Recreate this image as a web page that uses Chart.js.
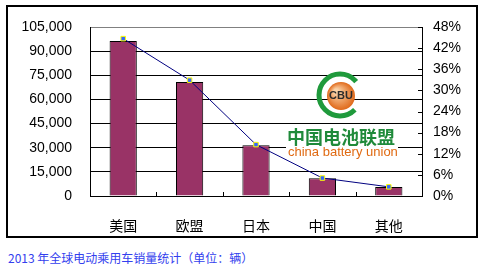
<!DOCTYPE html>
<html>
<head>
<meta charset="utf-8">
<script src="https://cdn.jsdelivr.net/npm/chart.js@4/dist/chart.umd.min.js"></script>
<style>
  body { margin: 0; background: #fff; }
  #wrap { position: relative; width: 484px; height: 267px; }
  #box { position: absolute; left: 6px; top: 5px; width: 468px; height: 229px; border: 2px solid #000; }
  #c { position: absolute; left: 0; top: 0; }
  #caption {
    position: absolute; left: 8px; top: 249px;
    font: 12px "Noto Sans CJK SC", sans-serif; color: #3340ee; white-space: nowrap;
  }
</style>
</head>
<body>
<div id="wrap">
  <div id="box"></div>
  <canvas id="c" width="484" height="240"></canvas>
  <div id="caption">2013 年全球电动乘用车销量统计（单位：辆）</div>
</div>
<script>
const categories = ['美国', '欧盟', '日本', '中国', '其他'];
const sales = [96300, 70800, 31500, 11000, 5600];
const shares = [44.7, 32.9, 14.6, 5.1, 2.6];

const salesTicks = { min: 0, max: 105000, step: 15000 };
const shareTicks = { min: 0, max: 48, step: 6 };

// small inside ticks on the right axis and between categories
const innerTicks = {
    id: 'innerTicks',
    afterDraw(chart) {
        const ctx = chart.ctx;
        const x = chart.scales.x;
        const y1 = chart.scales.y1;
        const area = chart.chartArea;
        ctx.save();
        ctx.strokeStyle = '#000';
        ctx.lineWidth = 1;
        ctx.beginPath();
        for (const t of y1.ticks) {
            const py = Math.round(y1.getPixelForValue(t.value)) + 0.5;
            ctx.moveTo(area.right - 4, py);
            ctx.lineTo(area.right, py);
        }
        for (let i = 0; i < categories.length - 1; i++) {
            const px = Math.round((x.getPixelForValue(i) + x.getPixelForValue(i + 1)) / 2) + 0.5;
            ctx.moveTo(px, area.bottom - 4);
            ctx.lineTo(px, area.bottom);
        }
        ctx.stroke();
        ctx.restore();
    }
};

// CBU watermark + grey top gridline
const logo = {
    id: 'logo',
    beforeDatasetsDraw(chart) {
        const ctx = chart.ctx;
        const area = chart.chartArea;
        ctx.save();
        const top = Math.round(chart.scales.y.getPixelForValue(salesTicks.max)) + 0.5;
        ctx.strokeStyle = '#808080';
        ctx.lineWidth = 1;
        ctx.beginPath();
        ctx.moveTo(area.left + 1, top);
        ctx.lineTo(area.right, top);
        ctx.stroke();
        ctx.fillStyle = '#fff';
        ctx.fillRect(286, 145, 112, 13);
        // green C
        ctx.strokeStyle = '#1f9a3c';
        ctx.lineWidth = 5;
        ctx.beginPath();
        ctx.arc(340, 95, 21, 0.25 * Math.PI, 1.78 * Math.PI);
        ctx.stroke();
        // orange ball
        const g = ctx.createRadialGradient(336, 91, 2, 341, 96, 14);
        g.addColorStop(0, '#fbd3a8');
        g.addColorStop(1, '#e0691a');
        ctx.fillStyle = g;
        ctx.beginPath();
        ctx.arc(341, 96, 14, 0, 2 * Math.PI);
        ctx.fill();
        ctx.fillStyle = '#2b2b2b';
        ctx.font = 'bold 11px "Liberation Sans", Arial';
        ctx.textAlign = 'center';
        ctx.textBaseline = 'middle';
        ctx.fillText('CBU', 341, 96);
        ctx.fillStyle = '#1f8a3a';
        ctx.font = 'bold 18px "Noto Sans CJK SC", sans-serif';
        ctx.textAlign = 'left';
        ctx.fillText('中国电池联盟', 287, 137);
        ctx.fillStyle = '#e06a12';
        ctx.font = '13px "Liberation Sans", Arial';
        ctx.fillText('china battery union', 288, 152);
        ctx.restore();
    }
};

new Chart(document.getElementById('c'), {
    type: 'bar',
    data: {
        labels: categories,
        datasets: [{
            type: 'line',
            data: shares,
            yAxisID: 'y1',
            order: 0,
            borderColor: '#000080',
            borderWidth: 1,
            tension: 0,
            pointStyle: 'rect',
            pointRadius: 3.2,
            pointBackgroundColor: '#3366ff',
            pointBorderColor: '#ffff00',
            pointBorderWidth: 1
        }, {
            type: 'bar',
            data: sales,
            yAxisID: 'y',
            order: 1,
            backgroundColor: '#993366',
            borderColor: '#000',
            borderWidth: 1,
            categoryPercentage: 1,
            barPercentage: 0.41
        }]
    },
    options: {
        responsive: false,
        animation: false,
        devicePixelRatio: 1,
        layout: { padding: { top: 27, left: 0, right: 0, bottom: 0 } },
        plugins: { legend: { display: false }, tooltip: { enabled: false } },
        scales: {
            x: {
                grid: { display: false },
                border: { color: '#000' },
                ticks: { color: '#000', padding: 13, font: { family: '"Noto Sans CJK SC"', size: 14 } },
                afterFit(s) { s.height = 44; }
            },
            y: {
                position: 'left',
                min: salesTicks.min,
                max: salesTicks.max,
                ticks: {
                    stepSize: salesTicks.step,
                    color: '#000',
                    padding: 18,
                    font: { family: '"Liberation Sans", Arial', size: 14 },
                    callback: (v) => v.toLocaleString('en-US')
                },
                grid: { drawTicks: false, color: '#000' },
                border: { color: '#000' },
                afterFit(s) { s.width = 90; }
            },
            y1: {
                position: 'right',
                min: shareTicks.min,
                max: shareTicks.max,
                ticks: {
                    stepSize: shareTicks.step,
                    color: '#000',
                    padding: 11,
                    font: { family: '"Liberation Sans", Arial', size: 14 },
                    callback: (v) => v + '%'
                },
                grid: { drawOnChartArea: false, drawTicks: false },
                border: { color: '#000' },
                afterFit(s) { s.width = 62; }
            }
        }
    },
    plugins: [innerTicks, logo]
});
</script>
</body>
</html>
